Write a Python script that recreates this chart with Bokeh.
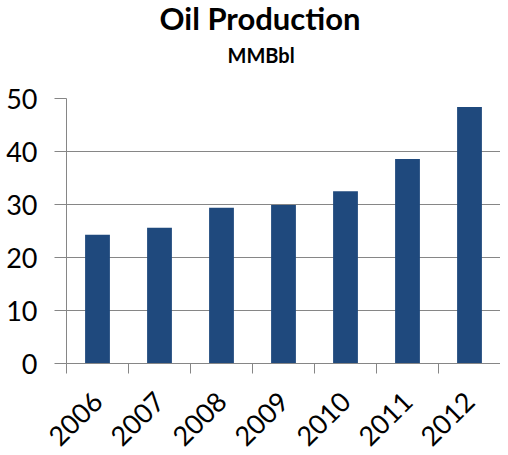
import math
from bokeh.plotting import figure
from bokeh.models import (FactorRange, Range1d, LinearAxis, CategoricalAxis,
                          FixedTicker, Title, Grid)
from bokeh.embed import file_html
from bokeh.resources import INLINE

years = ["2006", "2007", "2008", "2009", "2010", "2011", "2012"]
production = [24.3, 25.6, 29.4, 29.9, 32.5, 38.6, 48.4]
y_ticks = [0, 10, 20, 30, 40, 50]

FONT = "Lato"
GRAY = "#868686"
BAR = "#1F497D"

p = figure(x_range=FactorRange(*years), y_range=Range1d(0, 50),
           frame_width=434, frame_height=265,
           min_border_left=66, min_border_right=0,
           min_border_top=98, min_border_bottom=84,
           x_axis_location=None, y_axis_location=None,
           output_backend="svg", toolbar_location=None,
           background_fill_color="white", border_fill_color="white",
           outline_line_color=None)

p.vbar(x=years, top=production, width=0.4, color=BAR, line_color=None)

# boundary ticks axis (nearest to frame); synthetic categorical coords 0..7
bounds = list(range(len(years) + 1))
tick_axis = LinearAxis(ticker=FixedTicker(ticks=bounds),
                       major_label_overrides={i: "" for i in bounds},
                       major_label_text_font_size="1px",
                       major_label_standoff=0,
                       axis_line_color=GRAY, major_tick_line_color=GRAY,
                       major_tick_out=10, major_tick_in=0,
                       minor_tick_line_color=None)
p.add_layout(tick_axis, "below")

cat_axis = CategoricalAxis(axis_line_color=None, major_tick_line_color=None,
                           minor_tick_line_color=None,
                           major_label_orientation=math.pi / 4,
                           major_label_text_font=FONT,
                           major_label_text_font_size="27px",
                           major_label_text_color="black",
                           major_label_standoff=17)
p.add_layout(cat_axis, "below")

y_axis = LinearAxis(ticker=FixedTicker(ticks=y_ticks),
                    axis_line_color=GRAY, major_tick_line_color=GRAY,
                    major_tick_out=12, major_tick_in=0,
                    minor_tick_line_color=None,
                    major_label_text_font=FONT,
                    major_label_text_font_size="27px",
                    major_label_text_color="black",
                    major_label_standoff=17)
p.add_layout(y_axis, "left")

p.xgrid.visible = False
p.ygrid.visible = False
p.add_layout(Grid(dimension=1, ticker=FixedTicker(ticks=y_ticks),
                  grid_line_color=GRAY, grid_line_width=1))

p.add_layout(Title(text="MMBbl", text_font=FONT, text_font_style="bold",
                   text_font_size="20px", text_color="black",
                   align="left", offset=161, standoff=63), "above")
p.add_layout(Title(text="Oil Production", text_font=FONT, text_font_style="bold",
                   text_font_size="31px", text_color="black",
                   align="left", offset=93, standoff=-55), "above")

open("out.html", "w").write(file_html(p, INLINE))
